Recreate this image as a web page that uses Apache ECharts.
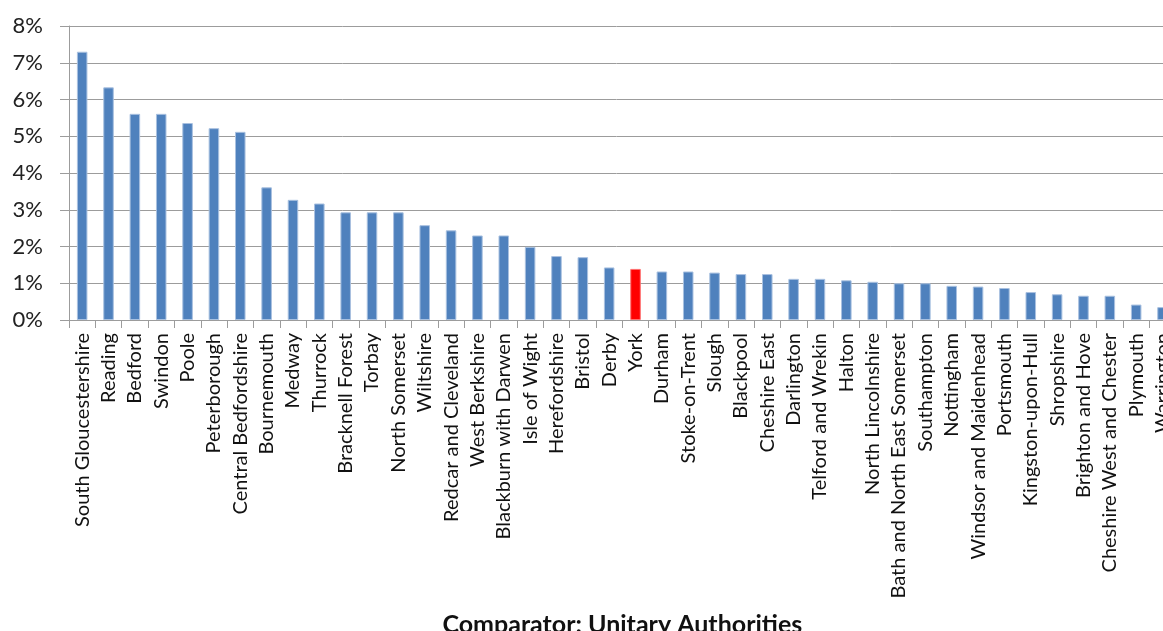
<!DOCTYPE html>
<html>
<head>
<meta charset="utf-8">
<script src="https://cdn.jsdelivr.net/npm/echarts@6/dist/echarts.min.js"></script>
<style>html,body{margin:0;padding:0;background:#fff;}#c{width:1163px;height:631px;}</style>
</head>
<body>
<div id="c"></div>
<script>
const categories = ["South Gloucestershire","Reading","Bedford","Swindon","Poole","Peterborough","Central Bedfordshire","Bournemouth","Medway","Thurrock","Bracknell Forest","Torbay","North Somerset","Wiltshire","Redcar and Cleveland","West Berkshire","Blackburn with Darwen","Isle of Wight","Herefordshire","Bristol","Derby","York","Durham","Stoke-on-Trent","Slough","Blackpool","Cheshire East","Darlington","Telford and Wrekin","Halton","North Lincolnshire","Bath and North East Somerset","Southampton","Nottingham","Windsor and Maidenhead","Portsmouth","Kingston-upon-Hull","Shropshire","Brighton and Hove","Cheshire West and Chester","Plymouth","Warrington"];
const values = [7.30,6.33,5.61,5.61,5.36,5.22,5.12,3.61,3.27,3.17,2.93,2.93,2.93,2.58,2.44,2.30,2.30,1.99,1.74,1.71,1.43,1.39,1.32,1.32,1.29,1.25,1.25,1.12,1.12,1.08,1.04,1.00,1.00,0.93,0.91,0.87,0.76,0.70,0.66,0.66,0.42,0.35];
const highlight = "York";
const yTicks = [0,1,2,3,4,5,6,7,8];
const xTitle = "Comparator: Unitary Authorities";

const FONT = "Lato";
const chart = echarts.init(document.getElementById('c'), null, {renderer:'canvas'});
const catW = 26.35;
chart.setOption({
  animation: false,
  grid: {left: 69, top: 26, height: 294, width: categories.length * catW, containLabel: false, outerBoundsMode: 'none'},
  xAxis: {
    type: 'category',
    data: categories,
    boundaryGap: true,
    axisLine: {lineStyle: {color: '#9c9c9c', width: 1}},
    axisTick: {show: true, length: 8, alignWithLabel: false, interval: 0, lineStyle: {color: '#9c9c9c'}},
    axisLabel: {rotate: 90, interval: 0, margin: 13, fontFamily: FONT, fontSize: 20, color: '#111'},
    name: xTitle,
    nameLocation: 'middle',
    nameGap: 292,
    nameTextStyle: {fontFamily: FONT, fontSize: 25, fontWeight: 'bold', color: '#111'}
  },
  yAxis: {
    type: 'value',
    min: yTicks[0], max: yTicks[yTicks.length-1], interval: 1,
    axisLine: {show: true, lineStyle: {color: '#9c9c9c', width: 1}},
    axisTick: {show: true, length: 9, lineStyle: {color: '#9c9c9c'}},
    splitLine: {show: true, lineStyle: {color: '#9c9c9c', width: 1}},
    axisLabel: {formatter: '{value}%', margin: 26, fontFamily: FONT, fontSize: 22, color: '#222'}
  },
  series: [{
    type: 'bar',
    barWidth: '40%',
    data: values.map((v, i) => categories[i] === highlight
      ? {value: v, itemStyle: {color: '#ff0000', borderColor: '#ff7070', borderWidth: 1}}
      : v),
    itemStyle: {color: '#4f81bd', borderColor: '#a9c1e0', borderWidth: 1}
  }]
});
</script>
</body>
</html>
